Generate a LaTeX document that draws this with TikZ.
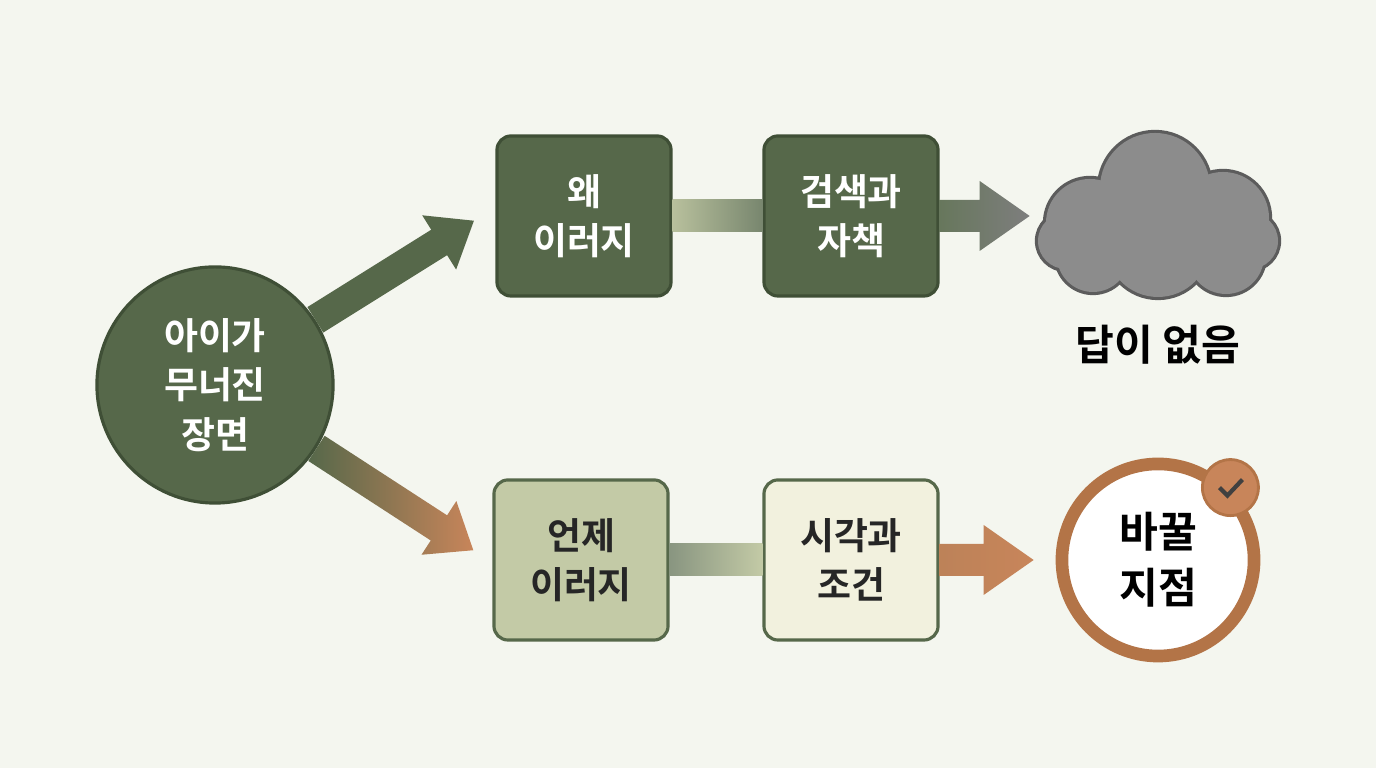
\documentclass[tikz,border=0pt]{standalone}
\usepackage{fontspec}
\setmainfont{Noto Sans CJK KR}[BoldFont={Noto Sans CJK KR Bold}]
\usetikzlibrary{positioning,calc}
\definecolor{moss}{HTML}{56684A}
\definecolor{mossdark}{HTML}{3F4F36}
\definecolor{sage}{HTML}{C3CAA6}
\definecolor{cream}{HTML}{F2F1DE}
\definecolor{clay}{HTML}{C8855A}
\definecolor{claydark}{HTML}{B37447}
\definecolor{paper}{HTML}{F4F6EF}
\definecolor{fog}{HTML}{8C8C8C}
\definecolor{fogdark}{HTML}{5C5C5C}
\begin{document}
\begin{tikzpicture}[
			x = 0.01cm, y = 0.01cm,
			every node/.style = {font=\fontsize{10.5}{14}\selectfont\bfseries, align=center},
			box/.style = {rounded corners=4pt, minimum width=1.74cm, minimum height=1.6cm, line width=0.9pt},
			darkbox/.style = {box, fill=moss, draw=mossdark, text=white},
			lightbox/.style = {box, draw=moss, text=black!85}
		]

		\fill[paper] (0,0) rectangle (1376,768);

		\node[circle, fill=moss, draw=mossdark, line width=0.9pt, minimum size=2.36cm, text=white] (scene) at (215,383) {아이가\\무너진\\장면};

		\node[darkbox] (why) at (584,552) {왜\\이러지};
		\node[darkbox] (search) at (851,552) {검색과\\자책};
		\node[lightbox, fill=sage] (when) at (581,208) {언제\\이러지};
		\node[lightbox, fill=cream] (time) at (851,208) {시각과\\조건};

		% bars between boxes
		\shade[left color=sage!90!moss, right color=moss!80] ($(why.east)+(0,-16)$) rectangle ($(search.west)+(0,16)$);
		\shade[left color=moss!70, right color=sage] ($(when.east)+(0,-16)$) rectangle ($(time.west)+(0,16)$);

		% diagonal arrows
		\begin{scope}[shift={(scene.33)}, rotate=32]
			\fill[moss] (0,-15) -- (146,-15) -- (146,-32) -- (187,0) -- (146,32) -- (146,15) -- (0,15) -- cycle;
		\end{scope}
		\begin{scope}[shift={(scene.-32)}, rotate=-33]
			\shade[left color=moss, right color=clay] (0,-15) -- (146,-15) -- (146,-32) -- (187,0) -- (146,32) -- (146,15) -- (0,15) -- cycle;
		\end{scope}

		% right arrows
		\begin{scope}[shift={(search.east)}]
			\shade[left color=moss!90, right color=fog!90!black] (0,-16) -- (40,-16) -- (40,-35) -- (90,0) -- (40,35) -- (40,16) -- (0,16) -- cycle;
		\end{scope}
		\begin{scope}[shift={(time.east)}]
			\shade[left color=clay!90!moss, right color=clay] (0,-16) -- (44,-16) -- (44,-35) -- (94,0) -- (44,35) -- (44,16) -- (0,16) -- cycle;
		\end{scope}

		% cloud
		\coordinate (cloud) at (1158,545);
		\foreach \dx/\dy/\r in {-3/35/55, -68/0/44, 65/5/46, 0/-22/52, -65/-33/36, 68/-33/38, -92/-18/28, 92/-18/28}{
			\draw[fogdark, line width=1.8pt] ($(cloud)+(\dx,\dy)$) circle (\r);
		}
		\foreach \dx/\dy/\r in {-3/35/55, -68/0/44, 65/5/46, 0/-22/52, -65/-33/36, 68/-33/38, -92/-18/28, 92/-18/28}{
			\fill[fog] ($(cloud)+(\dx,\dy)$) circle (\r);
		}
		\node[text=black, font=\fontsize{12}{14}\selectfont\bfseries] (none) at (1158,423) {답이 없음};

		% turning point
		\node[circle, fill=white, draw=claydark, line width=3.6pt, minimum size=1.92cm, text=black, font=\fontsize{12}{16}\selectfont\bfseries] (turn) at (1158,208) {바꿀\\지점};
		\node[circle, fill=clay, draw=claydark, line width=0.8pt, minimum size=0.56cm] (badge) at (turn.45) {};
		\draw[black!75, line width=1.2pt] ($(badge)+(-11,0)$) -- ($(badge)+(-3,-8)$) -- ($(badge)+(12,8)$);

\end{tikzpicture}
\end{document}
